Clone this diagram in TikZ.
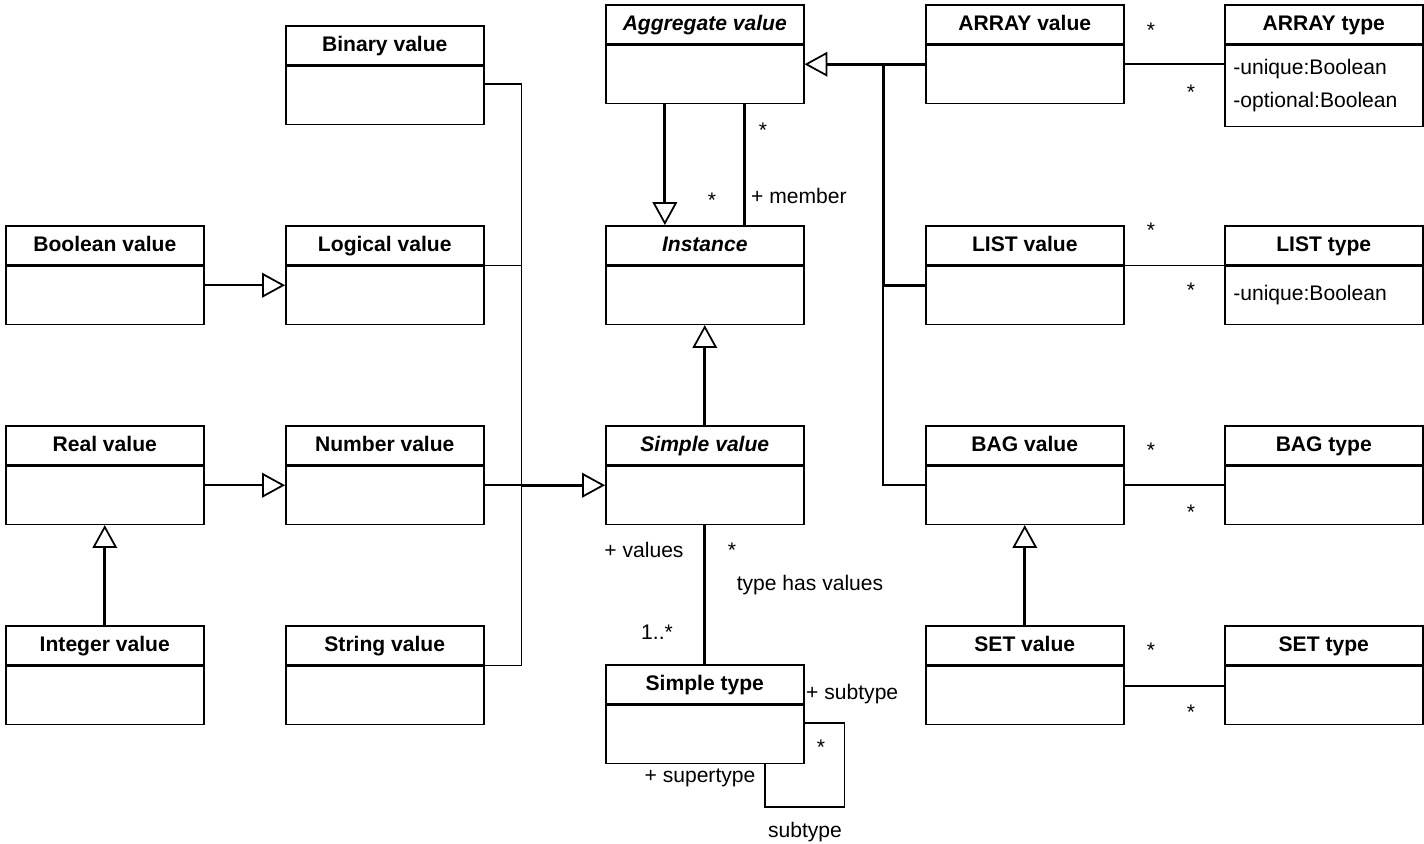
\documentclass[tikz,border=0pt]{standalone}
\usepackage{fontspec}
\setmainfont{Liberation Sans}
\usetikzlibrary{positioning,calc,arrows.meta}
\begin{document}
\begin{tikzpicture}[x=0.02cm,y=-0.02cm,
  font=\fontsize{12}{14}\selectfont,
  clshead/.style={draw,line width=0.9pt,fill=white,minimum width=3.96cm,minimum height=0.78cm,
    inner sep=0pt,text height=9.6pt,text depth=2.6pt,anchor=north west,
    font=\fontsize{12}{14}\selectfont\bfseries},
  abstract/.style={clshead,font=\fontsize{12}{14}\selectfont\bfseries\itshape},
  clsbody/.style={draw,line width=0.9pt,fill=white,minimum width=3.96cm,minimum height=1.16cm,inner sep=0pt},
  attrs/.style={clsbody,text width=3.62cm,inner xsep=0.17cm,align=left,font=\fontsize{12}{18.8}\selectfont},
  assoc/.style={line width=1pt},
  heavy/.style={line width=1.7pt},
  gen/.style={-{Triangle[open,length=13pt,width=14pt,line width=1pt]}},
]
\useasboundingbox (0,0) rectangle (1424,843);

% value classes, left
\node[clshead] (bin) at (285,25) {Binary value};
\node[clsbody,below=0pt of bin] (binb) {};
\node[clshead] (bool) at (5,225) {Boolean value};
\node[clsbody,below=0pt of bool] (boolb) {};
\node[clshead] (logic) at (285,225) {Logical value};
\node[clsbody,below=0pt of logic] (logicb) {};
\node[clshead] (real) at (5,425) {Real value};
\node[clsbody,below=0pt of real] (realb) {};
\node[clshead] (num) at (285,425) {Number value};
\node[clsbody,below=0pt of num] (numb) {};
\node[clshead] (int) at (5,625) {Integer value};
\node[clsbody,below=0pt of int] (intb) {};
\node[clshead] (str) at (285,625) {String value};
\node[clsbody,below=0pt of str] (strb) {};

% middle column
\node[abstract] (agg) at (605,4) {Aggregate value};
\node[clsbody,below=0pt of agg] (aggb) {};
\node[abstract] (inst) at (605,225) {Instance};
\node[clsbody,below=0pt of inst] (instb) {};
\node[abstract] (simp) at (605,425) {Simple value};
\node[clsbody,below=0pt of simp] (simpb) {};
\node[clshead] (stype) at (605,664) {Simple type};
\node[clsbody,below=0pt of stype] (stypeb) {};

% aggregates and their types
\node[clshead] (arrv) at (925,4) {ARRAY value};
\node[clsbody,below=0pt of arrv] (arrvb) {};
\node[clshead] (lstv) at (925,225) {LIST value};
\node[clsbody,below=0pt of lstv] (lstvb) {};
\node[clshead] (bagv) at (925,425) {BAG value};
\node[clsbody,below=0pt of bagv] (bagvb) {};
\node[clshead] (setv) at (925,625) {SET value};
\node[clsbody,below=0pt of setv] (setvb) {};
\node[clshead] (arrt) at (1224,4) {ARRAY type};
\node[attrs,minimum height=1.62cm,below=0pt of arrt] (arrtb) {-unique:Boolean\\-optional:Boolean};
\node[clshead] (lstt) at (1224,225) {LIST type};
\node[attrs,below=0pt of lstt] (lsttb) {-unique:Boolean};
\node[clshead] (bagt) at (1224,425) {BAG type};
\node[clsbody,below=0pt of bagt] (bagtb) {};
\node[clshead] (sett) at (1224,625) {SET type};
\node[clsbody,below=0pt of sett] (settb) {};

% generalisations into Simple value
\coordinate (lbus) at ($(numb.north east)!0.33!(numb.south east)+(37,0)$);
\draw[assoc] ($(binb.north east)!0.31!(binb.south east)$) -| (lbus);
\draw[assoc] (logic.south east) -| (lbus);
\draw[assoc] (str.south east) -| (lbus);
\draw[assoc] ($(numb.north east)!0.33!(numb.south east)$) -- (lbus);
\draw[heavy,gen] (lbus) -- (lbus -| simpb.west);
\draw[assoc,gen] ($(boolb.north east)!0.33!(boolb.south east)$) -- ($(logicb.north west)!0.33!(logicb.south west)$);
\draw[assoc,gen] ($(realb.north east)!0.33!(realb.south east)$) -- ($(numb.north west)!0.33!(numb.south west)$);
\draw[heavy,gen] (int.north) -- (realb.south);

% Instance
\draw[heavy,gen] (simp.north) -- (instb.south);
\draw[heavy,gen] ($(aggb.south west)!0.3!(aggb.south east)$) -- ($(inst.north west)!0.3!(inst.north east)$);
\draw[heavy] ($(aggb.south west)!0.7!(aggb.south east)$) -- ($(inst.north west)!0.7!(inst.north east)$);
\node (mAgg) at (763,130) {*};
\node (mInst) at (712,200) {*};
\node[anchor=west] (rMember) at (745,196) {+ member};

% generalisations into Aggregate value
\coordinate (rbus) at ($(arrvb.north west)!0.33!(arrvb.south west)+(-42,0)$);
\draw[heavy] ($(arrvb.north west)!0.33!(arrvb.south west)$) -- (rbus);
\draw[heavy,gen] (rbus) -- (rbus -| aggb.east);
\draw[heavy] ($(lstvb.north west)!0.33!(lstvb.south west)$) -| (rbus);
\draw[assoc] ($(bagvb.north west)!0.33!(bagvb.south west)$) -| (rbus);
\draw[heavy,gen] (setv.north) -- (bagvb.south);

% value -- type
\path ($(arrvb.north east)!0.33!(arrvb.south east)$) coordinate (arrlink);
\draw[assoc] (arrlink) -- (arrlink -| arrtb.west);
\draw[assoc] (lstv.south east) -- (lstt.south west);
\draw[assoc] ($(bagvb.north east)!0.33!(bagvb.south east)$) -- ($(bagtb.north west)!0.33!(bagtb.south west)$);
\draw[assoc] ($(setvb.north east)!0.34!(setvb.south east)$) -- ($(settb.north west)!0.34!(settb.south west)$);
\node (mArrV) at (1151,30) {*};
\node (mArrT) at (1191,92) {*};
\node (mLstV) at (1151,230) {*};
\node (mLstT) at (1191,290) {*};
\node (mBagV) at (1151,450) {*};
\node (mBagT) at (1191,512) {*};
\node (mSetV) at (1151,650) {*};
\node (mSetT) at (1191,712) {*};

% Simple value -- Simple type
\draw[heavy] (simpb.south) -- (stype.north);
\node (rValues) at (644,550) {+ values};
\node (mVal) at (732,550) {*};
\node (aName) at (810,585) {type has values};
\node (mType) at (657,632) {1..*};

% subtype loop
\draw[assoc] ($(stypeb.north east)!0.31!(stypeb.south east)$) -- ++(40,0) -- ++(0,84)
  -| ($(stypeb.south west)!0.8!(stypeb.south east)$);
\node[anchor=west] (rSub) at (800,694) {+ subtype};
\node (mSub) at (821,747) {*};
\node (rSuper) at (700,778) {+ supertype};
\node (aSub) at (805,832) {subtype};
\end{tikzpicture}
\end{document}
